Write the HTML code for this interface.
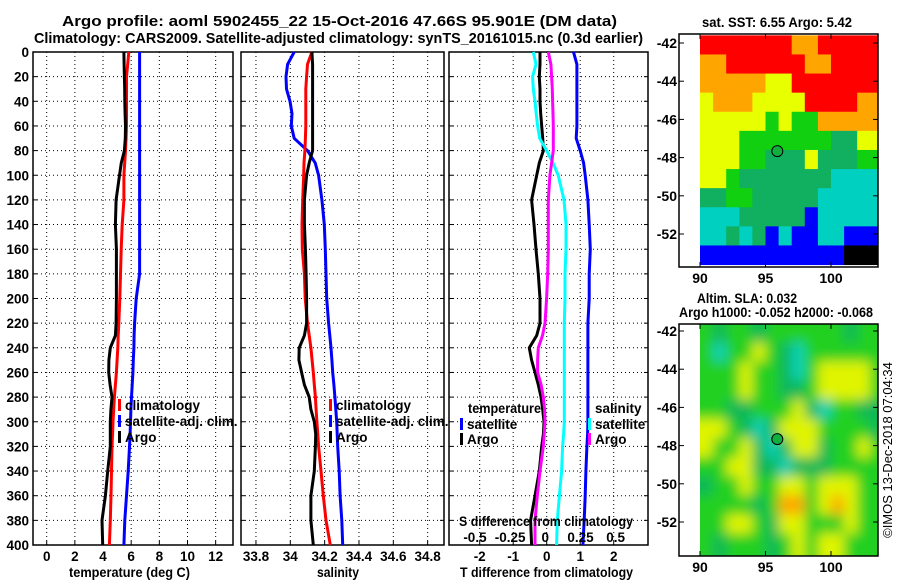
<!DOCTYPE html>
<html><head><meta charset="utf-8"><style>
html,body{margin:0;padding:0;background:#fff;}
svg{display:block;font-family:"Liberation Sans",sans-serif;font-weight:bold;}
</style></head><body>
<svg id="fig" width="900" height="580" viewBox="0 0 900 580" xmlns="http://www.w3.org/2000/svg">
<defs>
<filter id="blur" x="-10%" y="-10%" width="120%" height="120%"><feGaussianBlur stdDeviation="6"/></filter>
<clipPath id="clipSla"><rect x="700" y="324" width="178" height="232"/></clipPath>
</defs>
<g font-size="15" text-anchor="middle" fill="#000">
<text x="339.5" y="26" textLength="555" lengthAdjust="spacingAndGlyphs">Argo profile: aoml 5902455_22 15-Oct-2016 47.66S 95.901E (DM data)</text>
<text x="338.5" y="43" textLength="609" lengthAdjust="spacingAndGlyphs">Climatology: CARS2009. Satellite-adjusted climatology: synTS_20161015.nc (0.3d earlier)</text>
</g>
</svg>
<script>
const depths=[0,10,20,30,40,50,60,70,80,90,100,120,140,160,180,200,220,230,240,250,260,270,280,290,300,310,320,340,360,380,400];
// Temperature panel
const tClim=[5.83,5.75,5.67,5.67,5.67,5.67,5.67,5.64,5.6,5.54,5.48,5.48,5.36,5.29,5.24,5.19,5.12,5.08,5.05,5.0,4.95,4.88,4.81,4.76,4.71,4.68,4.64,4.6,4.57,4.52,4.45];
const tSat=[6.6,6.6,6.6,6.6,6.6,6.6,6.6,6.6,6.6,6.6,6.6,6.6,6.6,6.6,6.6,6.36,6.24,6.21,6.19,6.15,6.12,6.07,6.02,5.98,5.95,5.92,5.88,5.79,5.67,5.55,5.48];
const tArgo=[5.48,5.5,5.52,5.54,5.55,5.57,5.6,5.58,5.52,5.3,5.17,4.93,4.88,4.95,4.95,4.95,4.93,4.88,4.52,4.42,4.4,4.5,4.64,4.56,4.52,4.52,4.52,4.33,4.17,3.93,3.98];
// Salinity panel
const sClim=[34.126,34.1,34.095,34.09,34.09,34.09,34.09,34.088,34.085,34.08,34.078,34.072,34.068,34.07,34.082,34.087,34.1,34.11,34.12,34.127,34.134,34.14,34.146,34.15,34.155,34.16,34.165,34.179,34.192,34.208,34.233];
const sSat=[34.023,33.984,33.975,33.978,33.998,34.01,34.006,34.023,34.1,34.145,34.165,34.184,34.198,34.204,34.208,34.212,34.223,34.23,34.237,34.242,34.247,34.254,34.26,34.265,34.27,34.273,34.276,34.285,34.29,34.3,34.305];
const sArgo=[34.126,34.13,34.13,34.13,34.13,34.13,34.13,34.13,34.13,34.11,34.095,34.082,34.082,34.088,34.092,34.095,34.095,34.082,34.052,34.05,34.066,34.082,34.11,34.12,34.14,34.148,34.146,34.14,34.12,34.12,34.134];
// Difference panel
const dTSat=[0.8,0.9,0.9,0.9,0.9,0.9,0.9,0.88,1.0,1.1,1.15,1.23,1.27,1.3,1.27,1.27,1.23,1.23,1.23,1.23,1.23,1.23,1.23,1.23,1.23,1.22,1.2,1.17,1.15,1.12,1.08];
const dTArgo=[-0.2,-0.2,-0.22,-0.2,-0.2,-0.18,-0.15,-0.12,-0.1,-0.22,-0.3,-0.45,-0.38,-0.32,-0.25,-0.2,-0.2,-0.3,-0.52,-0.45,-0.35,-0.25,-0.17,-0.12,-0.08,-0.1,-0.15,-0.22,-0.35,-0.48,-0.45];
const dSSat=[-0.085,-0.066,-0.09,-0.085,-0.073,-0.065,-0.055,-0.04,0.009,0.055,0.092,0.133,0.147,0.147,0.14,0.14,0.135,0.135,0.135,0.135,0.135,0.135,0.135,0.135,0.135,0.13,0.123,0.116,0.1,0.085,0.08];
const dSArgo=[0.021,0.04,0.045,0.05,0.052,0.055,0.057,0.057,0.057,0.045,0.033,0.021,0.021,0.021,0.017,0.009,-0.002,-0.02,-0.05,-0.055,-0.055,-0.03,-0.014,-0.005,-0.002,-0.008,-0.014,-0.038,-0.057,-0.073,-0.073];
const depthTicks=[0,20,40,60,80,100,120,140,160,180,200,220,240,260,280,300,320,340,360,380,400];
const tTicks=[0,2,4,6,8,10,12];
const sTicks=[33.8,34,34.2,34.4,34.6,34.8];
const dTTicks=[-2,-1,0,1,2];
const dSTicks=[-0.5,-0.25,0,0.25,0.5];
const dSTickLabels=["-0.5","-0.25","0","0.25","0.5"];
const lonTicks=[90,95,100];
const latTicks=[-42,-44,-46,-48,-50,-52];
const argoLon=95.901, argoLat=-47.66;
// SST map colour codes (1deg cells, rows from -41.6 southward, cols from 90E)
const sstRows=["RRRRRRROORRRRR","OORRRRRROORRRR","OOOOOYYRRRRRRR","YOOOYYYYRRRROO","YYYYYGYGGOOOOO","YYYGGGGGGGDDYY","YYYGGDDDYDDDGG","YYGDDDDDDDCCCC","DDGGDDDDDCCCCC","CCCDDDDDBCCCCC","CCDCDBCBBCCBBB","BBBBBBBBBBBKKK"];
const slaRows=["GDGGDGGGGGGDGG","GCGGYGDCGGGGGG","GGGYGGDCGYYYYG","GGGYGGDDGYYYYG","GGDDGGGYDCGGDD","YYGDCDYYYGGGGD","YGGYDCDYYDGGYG","GGYYDDCDDDGGGG","DGGYGGYYGYYYGG","GGGGDGOOGYOYGG","GGYYGDYYGGGYGG","GDGGGDGYGYYGGG"];
const sstCol={R:"#ff0000",O:"#ffa500",Y:"#e8ff00",G:"#10d010",D:"#10b060",C:"#00d0c0",B:"#0000ff",K:"#000000"};
const slaCol={G:"#20d020",D:"#10b858",C:"#10d0b8",Y:"#e0f400",O:"#ffa800"};

const svg=document.getElementById('fig');
const NS="http://www.w3.org/2000/svg";
function el(tag,attrs,parent){const e=document.createElementNS(NS,tag);for(const k in attrs)e.setAttribute(k,attrs[k]);(parent||svg).appendChild(e);return e;}
function txt(x,y,s,anchor,size,parent,len){const a={x:x,y:y,'text-anchor':anchor||'middle','font-size':size||12};if(len){a.textLength=len;a.lengthAdjust='spacingAndGlyphs';}const t=el('text',a,parent);t.textContent=s;return t;}

const Y0=52,Y1=545;
const yScale=d=>Y0+(d/400)*(Y1-Y0);
const panels=[
 {name:'temperature-panel',x0:33,x1:233,sc:v=>46.7+v*14.08,ticks:tTicks,labels:tTicks.map(String),title:'temperature (deg C)',tx:129.5,tl:121,ylabels:true},
 {name:'salinity-panel',x0:241,x1:444,sc:v=>290.3+(v-34)*171.7,ticks:sTicks,labels:sTicks.map(String),title:'salinity',tx:338,tl:42},
 {name:'difference-panel',x0:449,x1:648,sc:v=>546.7+v*33.5,ticks:dTTicks,labels:dTTicks.map(String),title:'T difference from climatology',tx:546.5,tl:173}
];
const sdScale=v=>545.3+v*140.7;
const FS=13.5;

panels.forEach(p=>{
 const g=el('g',{});
 
 
 depthTicks.forEach(d=>{
  const y=yScale(d);
  if(d>0&&d<400){const l=el('line',{x1:p.x0,x2:p.x1,y1:y,y2:y,stroke:'#000','stroke-width':1,'stroke-dasharray':'1,3'},g);
   }
  el('line',{x1:p.x0,x2:p.x0+4,y1:y,y2:y,stroke:'#000'},g);
  el('line',{x1:p.x1-4,x2:p.x1,y1:y,y2:y,stroke:'#000'},g);
  if(p.ylabels){const t=txt(29,y+5,String(d),'end',13.5,g);}
 });
 p.ticks.forEach((v,i)=>{
  const x=p.sc(v);
  const l=el('line',{x1:x,x2:x,y1:Y0,y2:Y1,stroke:'#000','stroke-width':1,'stroke-dasharray':'1,3'},g);
  
  el('line',{x1:x,x2:x,y1:Y1-4,y2:Y1,stroke:'#000'},g);
  const t=txt(x,561,p.labels[i],'middle',FS,g);
  
 });
 const r=el('rect',{x:p.x0,y:Y0,width:p.x1-p.x0,height:Y1-Y0,fill:'none',stroke:'#000','stroke-width':1.5},g);
 
 const at=txt(p.tx,577,p.title,'middle',13.5,g,p.tl);
 
 p.g=g;
});

function line(vals,sc,color,name,g){
 const pts=vals.map((v,i)=>sc(v).toFixed(1)+','+yScale(depths[i]).toFixed(1)).join(' ');
 const pl=el('polyline',{points:pts,fill:'none',stroke:color,'stroke-width':3,'stroke-linejoin':'round'},g);
 
 
}
line(tSat,panels[0].sc,'#0000ff','temp-satellite-line',panels[0].g);
line(tClim,panels[0].sc,'#ff0000','temp-climatology-line',panels[0].g);
line(tArgo,panels[0].sc,'#000','temp-argo-line',panels[0].g);
line(sSat,panels[1].sc,'#0000ff','sal-satellite-line',panels[1].g);
line(sClim,panels[1].sc,'#ff0000','sal-climatology-line',panels[1].g);
line(sArgo,panels[1].sc,'#000','sal-argo-line',panels[1].g);
line(dTSat,panels[2].sc,'#0000ff','tdiff-satellite-line',panels[2].g);
line(dTArgo,panels[2].sc,'#000','tdiff-argo-line',panels[2].g);
line(dSSat,sdScale,'#00ffff','sdiff-satellite-line',panels[2].g);
line(dSArgo,sdScale,'#ff00ff','sdiff-argo-line',panels[2].g);

const sdt=txt(546,526,'S difference from climatology','middle',13.5,panels[2].g,174);

dSTicks.forEach((v,i)=>{const t=txt(sdScale(v),542,dSTickLabels[i],'middle',FS,panels[2].g);
 });

function legend(x,y,color,label,name){
 const g=el('g',{});
 
 
 el('rect',{x:x,y:y-10,width:3,height:12,fill:color},g);
 txt(x+7,y+1,label,'start',13.5,g);
}
legend(118,409,'#ff0000','climatology','legend-climatology-temp');
legend(118,425,'#0000ff','satellite-adj. clim.','legend-satellite-temp');
legend(118,441,'#000','Argo','legend-argo-temp');
legend(329,409,'#ff0000','climatology','legend-climatology-sal');
legend(329,425,'#0000ff','satellite-adj. clim.','legend-satellite-sal');
legend(329,441,'#000','Argo','legend-argo-sal');
const lt=txt(468,413,'temperature','start',13.5,undefined,73);
legend(460,428,'#0000ff','satellite','legend-tdiff-satellite');
legend(460,443,'#000','Argo','legend-tdiff-argo');
const ls=txt(595,413,'salinity','start',13.5);
legend(588,428,'#00ffff','satellite','legend-sdiff-satellite');
legend(588,443,'#ff00ff','Argo','legend-sdiff-argo');

function map(cfg){
 const g=el('g',{});
 
 
 const lonX=l=>700+(l-90)*13.1;
 const latY=l=>cfg.lat42+(-42-l)*19.1;
 const top=cfg.top, bot=cfg.bot;
 const cg=el('g',cfg.blur?{'clip-path':'url(#clipSla)'}:{},g);
 if(cfg.blur) el('rect',{x:690,y:top-10,width:200,height:bot-top+20,fill:'#20d020'},cg);
 const inner=el('g',cfg.blur?{filter:'url(#blur)'}:{},cg);
 cfg.rows.forEach((row,ri)=>{
  for(let ci=0;ci<row.length;ci++){
   let x=lonX(90+ci), y=latY(-41.6-ri), w=13.6, h=19.6;
   if(cfg.blur){ if(ci===0){x-=12;w+=12;} if(ri===0){y-=12;h+=12;} if(ci===row.length-1)w+=12; if(ri===cfg.rows.length-1)h+=12; }
   const c=el('rect',{x:x,y:y,width:w,height:h,fill:cfg.cols[row[ci]]},inner);
   
   
  }
 });
 el('rect',{x:679,y:top,width:21,height:bot-top,fill:'#fff'},g);
 el('rect',{x:878,y:top,width:20,height:bot-top,fill:'#fff'},g);
 el('rect',{x:679,y:bot,width:200,height:20,fill:'#fff'},g);
 el('rect',{x:679,y:top-12,width:200,height:12,fill:'#fff'},g);
 const fr=el('rect',{x:679,y:top,width:199,height:bot-top,fill:'none',stroke:'#000','stroke-width':1.5},g);
 
 latTicks.forEach(l=>{const y=latY(l);
  el('line',{x1:679,x2:684,y1:y,y2:y,stroke:'#000'},g);
  el('line',{x1:873,x2:878,y1:y,y2:y,stroke:'#000'},g);
  const t=txt(677,y+5,String(l),'end',14,g);});
 lonTicks.forEach(l=>{const x=lonX(l);
  el('line',{x1:x,x2:x,y1:bot-5,y2:bot,stroke:'#000'},g);
  el('line',{x1:x,x2:x,y1:top,y2:top+5,stroke:'#000'},g);
  const t=txt(x,bot+16,String(l),'middle',14,g);});
 const m=el('circle',{cx:lonX(argoLon),cy:latY(argoLat),r:5.5,fill:'#10b040',stroke:'#000','stroke-width':1},g);
 
 cfg.titles.forEach(tt=>{const t=txt(tt.x,tt.y,tt.s,'middle',13.5,g,tt.len);});
}
map({name:'sst-map',rows:sstRows,cols:sstCol,top:34,bot:267,lat42:43,titles:[{s:'sat. SST: 6.55 Argo: 5.42',x:777,y:27,len:150}]});
map({name:'sla-map',rows:slaRows,cols:slaCol,top:324,bot:556,lat42:331,blur:true,titles:[{s:'Altim. SLA: 0.032',x:747,y:303,len:100},{s:'Argo h1000: -0.052 h2000: -0.068',x:776,y:317,len:194}]});
const cp=txt(0,0,'©IMOS 13-Dec-2018 07:04:34','middle',13);
cp.setAttribute('transform','translate(892,450) rotate(-90)');
cp.setAttribute('font-weight','normal');


</script>
</body></html>
